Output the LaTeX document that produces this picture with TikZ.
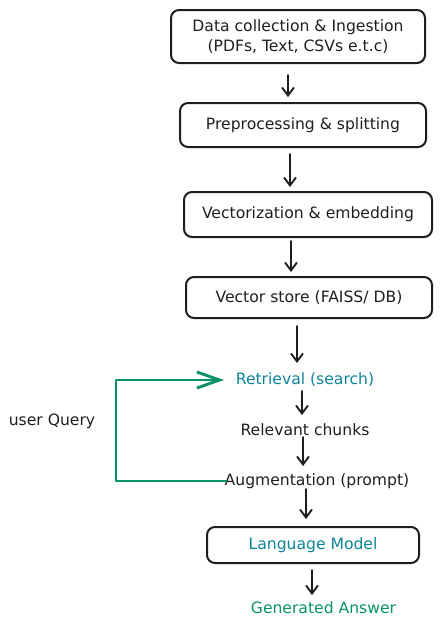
\documentclass[tikz,border=0pt]{standalone}
\usepackage{fontspec}
\setmainfont{DejaVu Sans}
\usetikzlibrary{arrows.meta}
\definecolor{ink}{HTML}{1E1E1E}
\definecolor{cyanx}{HTML}{0C8599}
\definecolor{greenx}{HTML}{099268}
\begin{document}
\begin{tikzpicture}[x=0.75pt,y=-0.75pt,
  font=\fontsize{11.7}{15}\selectfont,
  box/.style={draw=ink,line width=1.5pt,rounded corners=6pt,inner sep=0pt,align=center,text=ink},
  lbl/.style={inner sep=0pt,text=ink},
  arr/.style={draw=ink,line width=1.4pt,line cap=round,-{Straight Barb[length=6pt,width=9pt]}},
  garr/.style={draw=greenx,line width=2.2pt,line join=round,-{Straight Barb[length=17pt,width=12pt]}}]
\useasboundingbox (0,0) rectangle (443,629);

\node[box,minimum width=190.5pt,minimum height=39.75pt] (b1) at (298,36.5)
  {Data collection \& Ingestion\\(PDFs, Text, CSVs e.t.c)};
\node[box,minimum width=184.5pt,minimum height=33pt] (b2) at (303,125) {Preprocessing \& splitting};
\node[box,minimum width=186pt,minimum height=33.75pt] (b3) at (308,214.5) {Vectorization \& embedding};
\node[box,minimum width=184.5pt,minimum height=30.75pt] (b4) at (309,297.5) {Vector store (FAISS/ DB)};
\node[lbl,text=cyanx] (ret) at (305,380) {Retrieval (search)};
\node[lbl] (rel) at (305,430) {Relevant chunks};
\node[lbl] (aug) at (317,481) {Augmentation (prompt)};
\node[box,text=cyanx,minimum width=159pt,minimum height=27pt] (lm) at (313,545) {Language Model};
\node[lbl,text=greenx] (gen) at (323.5,608) {Generated Answer};
\node[lbl] (uq) at (52,421) {user Query};
\coordinate (qc) at (116,430);

\draw[arr] ([shift={(-10,11)}]b1.south) -- ([shift={(-15,-5)}]b2.north);
\draw[arr] ([shift={(-13,6)}]b2.south) -- ([shift={(-18,-4)}]b3.north);
\draw[arr] ([shift={(-17,3)}]b3.south) -- ([shift={(-18,-4)}]b4.north);
\draw[arr] ([shift={(-12,7)}]b4.south) -- ([shift={(-8,-17)}]ret.center);
\draw[arr] ([shift={(-3,11)}]ret.center) -- ([shift={(-3,-15)}]rel.center);
\draw[arr] ([shift={(-2,7)}]rel.center) -- ([shift={(-14,-15)}]aug.center);
\draw[arr] ([shift={(-11,8)}]aug.center) -- ([shift={(-7,-7)}]lm.north);
\draw[arr] ([shift={(-1,6)}]lm.south) -- ([shift={(-11.5,-13)}]gen.center);

\draw[garr] ([shift={(-90,0)}]aug.center) -| (qc) |- ([shift={(-81,0)}]ret.center);
\end{tikzpicture}
\end{document}
